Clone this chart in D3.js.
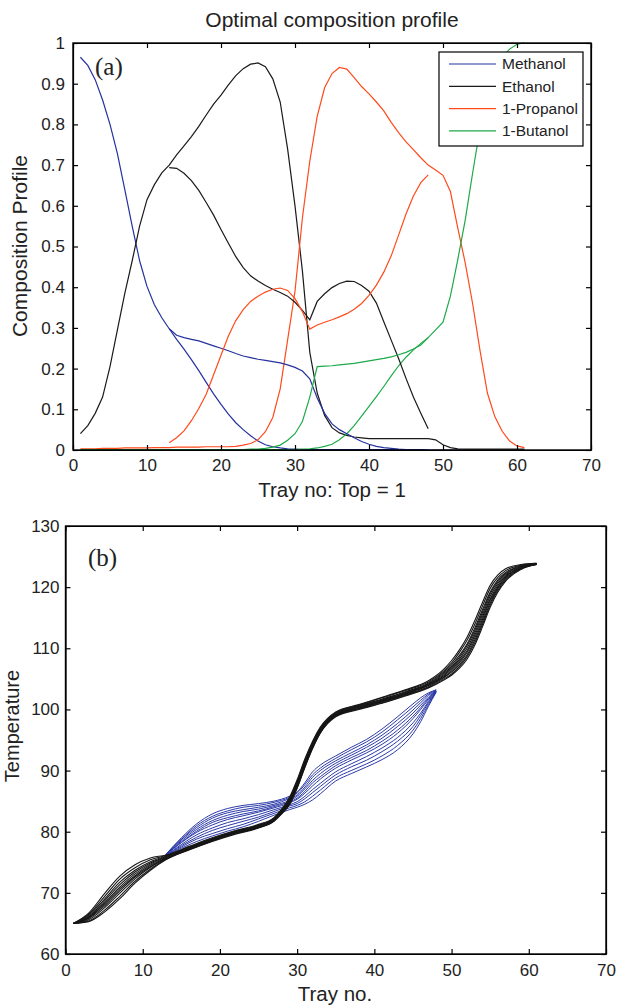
<!DOCTYPE html>
<html>
<head>
	<title>Optimal composition profile</title>
	<meta charset="utf-8">
	<style>
		body { margin: 0; background: #fff; }
		svg { display: block; font-family: "Liberation Sans", Arial, sans-serif; }
		.axis path, .axis line { fill: none; stroke: #000; stroke-width: 1.2; }
		.axis .tick text { font-size: 17px; fill: #222; }
		.frame { fill: none; stroke: #000; stroke-width: 1.4; }
		.label { font-size: 20.5px; fill: #222; }
		.tag { font-family: "Liberation Serif", "Times New Roman", serif; font-size: 25px; fill: #222; }
		.legend text { font-size: 15.5px; fill: #222; }
	</style>
</head>
<body>
	<div class="chart"></div>

	<script src="https://d3js.org/d3.v7.min.js"></script>
	<script>
		// ---- data : panel (a) composition profiles ----
		var mainTrays = [1,2,3,4,5,6,7,8,9,10,11,12,13,14,15,16,17,18,19,20,21,22,23,24,25,26,27,28,29,30,
			31,32,33,34,35,36,37,38,39,40,41,42,43,44,45,46,47,48,49,50,51,52,53,54,55,56,57,58,59,60,61];
		var sideTrays = [13,14,15,16,17,18,19,20,21,22,23,24,25,26,27,28,29,30,31,32,33,34,35,36,37,38,39,40,
			41,42,43,44,45,46,47,48];

		var mainMethanol = [0.965,0.945,0.91,0.86,0.80,0.728,0.64,0.55,0.465,0.402,
			0.357,0.325,0.298,0.272,0.248,0.222,0.195,0.166,0.138,0.112,
			0.088,0.067,0.05,0.035,0.022,0.013,0.008,0.005,0.003,0.002,
			0.001,0.001,0.001,0.001,0.001,0.001,0.001,0.001,0.001,0.001,
			0.001,0.001,0.001,0.001,0.001,0.001,0.001,0,0,0,
			0,0,0,0,0,0,0,0,0,0,0];
		var mainEthanol = [0.04,0.06,0.09,0.13,0.205,0.295,0.385,0.465,0.55,0.615,
			0.652,0.681,0.70,0.725,0.747,0.77,0.795,0.823,0.85,0.872,
			0.897,0.92,0.937,0.948,0.951,0.942,0.912,0.855,0.74,0.6,
			0.44,0.24,0.14,0.085,0.055,0.042,0.036,0.032,0.03,0.028,
			0.028,0.028,0.028,0.028,0.028,0.028,0.028,0.028,0.025,0.013,
			0.006,0.003,0.002,0.002,0.002,0.002,0.002,0.002,0.002,0.002,0.002];
		var mainPropanol = [0.003,0.003,0.003,0.004,0.004,0.004,0.005,0.005,0.005,0.005,
			0.006,0.006,0.006,0.007,0.007,0.007,0.007,0.008,0.008,0.008,
			0.008,0.009,0.012,0.016,0.025,0.045,0.08,0.15,0.27,0.39,
			0.57,0.71,0.82,0.89,0.925,0.94,0.936,0.915,0.893,0.875,
			0.855,0.833,0.805,0.78,0.757,0.738,0.718,0.70,0.688,0.675,
			0.635,0.545,0.46,0.36,0.245,0.14,0.082,0.046,0.022,0.01,0.006];
		var mainButanol = [0.001,0.001,0.001,0.001,0.001,0.001,0.001,0.001,0.001,0.001,
			0.001,0.001,0.001,0.001,0.001,0.001,0.001,0.001,0.001,0.001,
			0.001,0.001,0.001,0.001,0.001,0.001,0.001,0.001,0.001,0.001,
			0.002,0.003,0.005,0.009,0.014,0.025,0.04,0.06,0.083,0.107,
			0.131,0.156,0.182,0.207,0.228,0.246,0.262,0.276,0.295,0.314,
			0.378,0.468,0.565,0.68,0.79,0.87,0.93,0.965,0.985,0.997,1.0];

		var sideMethanol = [0.298,0.282,0.276,0.272,0.268,0.262,0.256,0.25,0.244,0.237,
			0.231,0.227,0.223,0.22,0.217,0.214,0.209,0.203,0.194,0.175,
			0.128,0.09,0.064,0.05,0.04,0.03,0.021,0.014,0.009,0.006,
			0.004,0.002,0.001,0.001,0,0];
		var sideEthanol = [0.694,0.692,0.68,0.662,0.638,0.608,0.577,0.542,0.508,0.475,
			0.448,0.428,0.415,0.404,0.395,0.387,0.378,0.363,0.343,0.32,
			0.365,0.384,0.399,0.409,0.415,0.414,0.404,0.39,0.361,0.315,
			0.27,0.225,0.176,0.13,0.09,0.052];
		var sidePropanol = [0.018,0.03,0.047,0.072,0.102,0.137,0.185,0.233,0.28,0.318,
			0.345,0.365,0.378,0.388,0.395,0.398,0.392,0.372,0.34,0.297,
			0.307,0.314,0.32,0.327,0.335,0.346,0.36,0.38,0.405,0.437,
			0.477,0.528,0.58,0.624,0.657,0.676];
		var sideButanol = [0,0,0.001,0.001,0.001,0.001,0.001,0.001,0.001,0.001,
			0.001,0.002,0.002,0.004,0.007,0.012,0.024,0.04,0.07,0.13,
			0.205,0.206,0.207,0.209,0.211,0.213,0.216,0.219,0.222,0.225,
			0.229,0.234,0.24,0.248,0.258,0.276];

		var components = ["Methanol", "Ethanol", "1-Propanol", "1-Butanol"];
		var componentColors = ["#25329e", "#1a1a1a", "#ff4a1c", "#1daa48"];

		// ---- data : panel (b) temperature profiles ----
		var mainTempTrays = [1,3,5,7,9,11,13,16,19,22,25,27,28,29,30,31,32,33,35,38,41,44,47,49,50,51,52,53,54,55,56,57,59,61];
		var mainTempRuns = [
			[65.0,65.3,66.8,69.0,71.6,73.7,75.4,77.0,78.4,79.6,80.6,81.7,82.9,84.4,87.1,90.5,93.6,96.1,98.8,100.0,101.0,102.2,103.5,104.8,105.6,106.7,108.2,110.5,113.5,116.7,119.2,121.0,122.9,123.7],
			[65.0,65.4,67.1,69.4,71.9,73.9,75.5,77.1,78.5,79.7,80.7,81.8,83.0,84.5,87.2,90.6,93.7,96.2,98.9,100.1,101.1,102.3,103.6,105.0,105.8,107.0,108.6,110.9,113.9,117.1,119.5,121.2,123.0,123.7],
			[65.0,65.6,67.5,69.9,72.3,74.2,75.6,77.1,78.5,79.7,80.7,81.8,83.1,84.6,87.4,90.8,93.8,96.3,99.0,100.2,101.2,102.4,103.7,105.2,106.1,107.3,108.9,111.3,114.3,117.4,119.8,121.4,123.1,123.7],
			[65.0,65.8,67.8,70.3,72.6,74.3,75.6,77.2,78.6,79.8,80.8,81.9,83.1,84.8,87.5,90.9,94.0,96.4,99.0,100.2,101.3,102.5,103.9,105.3,106.3,107.6,109.3,111.7,114.7,117.8,120.0,121.6,123.1,123.8],
			[65.0,65.9,68.1,70.6,72.8,74.5,75.7,77.2,78.6,79.8,80.8,81.9,83.2,84.9,87.7,91.1,94.1,96.5,99.1,100.3,101.4,102.6,104.0,105.5,106.6,107.9,109.6,112.1,115.1,118.1,120.3,121.8,123.2,123.8],
			[65.0,66.0,68.3,70.9,73.1,74.7,75.8,77.3,78.7,79.9,80.9,82.0,83.3,85.0,87.8,91.2,94.2,96.6,99.2,100.4,101.5,102.7,104.1,105.7,106.8,108.2,110.0,112.5,115.5,118.5,120.6,122.0,123.3,123.8],
			[65.0,66.1,68.6,71.3,73.4,74.9,75.9,77.4,78.8,80.0,81.0,82.1,83.4,85.1,87.9,91.3,94.3,96.7,99.3,100.5,101.6,102.8,104.2,105.9,107.0,108.5,110.4,112.9,115.9,118.9,120.9,122.2,123.4,123.8],
			[65.0,66.3,68.9,71.7,73.7,75.1,76.0,77.4,78.8,80.0,81.0,82.1,83.5,85.2,88.1,91.5,94.4,96.8,99.4,100.6,101.7,102.9,104.3,106.1,107.3,108.8,110.7,113.3,116.3,119.2,121.2,122.4,123.5,123.8],
			[65.0,66.5,69.3,72.2,74.1,75.4,76.1,77.5,78.9,80.1,81.1,82.2,83.6,85.4,88.3,91.7,94.6,97.0,99.5,100.7,101.9,103.1,104.5,106.3,107.6,109.3,111.3,113.9,116.9,119.8,121.6,122.7,123.6,123.9],
			[65.0,66.7,69.8,72.7,74.6,75.7,76.2,77.6,79.0,80.2,81.2,82.3,83.7,85.6,88.5,91.9,94.8,97.1,99.6,100.8,102.0,103.2,104.7,106.6,108.0,109.7,111.8,114.5,117.5,120.3,122.0,123.0,123.7,123.9]
		];
		var sideTempTrays = [13,15,17,19,21,23,25,27,29,30,31,32,33,35,37,39,41,43,45,46,47,48];
		var sideTempRuns = [
			[76.0,77.3,78.4,79.3,80.1,80.8,81.7,82.7,83.6,84.0,84.5,85.2,86.2,88.3,89.5,90.6,91.8,93.4,96.0,98.0,100.5,102.8],
			[76.0,77.5,78.8,79.7,80.5,81.2,82.1,83.0,83.9,84.3,84.9,85.8,86.8,88.8,90.0,91.1,92.4,94.1,96.6,98.5,100.8,102.9],
			[76.1,77.7,79.1,80.2,81.0,81.7,82.4,83.3,84.2,84.6,85.4,86.4,87.4,89.3,90.6,91.7,93.1,94.8,97.2,99.0,101.1,102.9],
			[76.1,77.9,79.5,80.6,81.5,82.1,82.8,83.6,84.4,84.9,85.8,86.9,87.9,89.8,91.1,92.3,93.7,95.4,97.8,99.4,101.3,103.0],
			[76.2,78.2,79.9,81.1,82.0,82.6,83.2,83.9,84.7,85.3,86.3,87.5,88.6,90.4,91.7,92.9,94.3,96.1,98.5,100.0,101.6,103.0],
			[76.2,78.3,80.1,81.5,82.3,82.9,83.4,84.1,84.9,85.5,86.6,88.0,89.0,90.8,92.1,93.3,94.8,96.6,98.9,100.3,101.8,103.0],
			[76.2,78.5,80.4,81.8,82.7,83.3,83.7,84.3,85.1,85.8,87.0,88.4,89.5,91.2,92.5,93.8,95.3,97.2,99.4,100.7,102.0,103.1],
			[76.2,78.7,80.7,82.2,83.1,83.6,84.0,84.5,85.4,86.0,87.3,88.9,90.0,91.6,92.9,94.2,95.8,97.7,99.9,101.1,102.3,103.1],
			[76.3,78.8,81.0,82.5,83.4,84.0,84.3,84.8,85.6,86.3,87.7,89.3,90.4,92.0,93.4,94.7,96.3,98.3,100.4,101.5,102.5,103.2],
			[76.3,79.0,81.3,82.9,83.8,84.3,84.6,85.0,85.8,86.5,88.0,89.8,90.9,92.4,93.8,95.1,96.8,98.8,100.9,101.9,102.7,103.2]
		];

		// ---- tick labels ----
		var trayTicks = [0, 10, 20, 30, 40, 50, 60, 70];
		var compTicks = [0, 0.1, 0.2, 0.3, 0.4, 0.5, 0.6, 0.7, 0.8, 0.9, 1];
		var compTickLabels = ["0", "0.1", "0.2", "0.3", "0.4", "0.5", "0.6", "0.7", "0.8", "0.9", "1"];
		var tempTicks = [60, 70, 80, 90, 100, 110, 120, 130];

		var svg = d3.select(".chart")
			.append("svg")
			.attr("width", 619)
			.attr("height", 1006);

		// draws a MATLAB-like boxed axes with inward ticks on all sides
		function drawBox(x, y, yTicks, yFormat, padBottom, padLeft) {
			var x0 = x.range()[0], x1 = x.range()[1];
			var y0 = y.range()[0], y1 = y.range()[1];

			svg.append("g").attr("class", "axis")
				.attr("transform", "translate(0," + y0 + ")")
				.call(d3.axisBottom(x).tickValues(trayTicks).tickSizeInner(-5).tickSizeOuter(0).tickPadding(padBottom));
			svg.append("g").attr("class", "axis")
				.attr("transform", "translate(0," + y1 + ")")
				.call(d3.axisTop(x).tickValues(trayTicks).tickSizeInner(-5).tickSizeOuter(0).tickFormat(""));
			svg.append("g").attr("class", "axis")
				.attr("transform", "translate(" + x0 + ",0)")
				.call(d3.axisLeft(y).tickValues(yTicks).tickSizeInner(-5).tickSizeOuter(0).tickPadding(padLeft).tickFormat(yFormat));
			svg.append("g").attr("class", "axis")
				.attr("transform", "translate(" + x1 + ",0)")
				.call(d3.axisRight(y).tickValues(yTicks).tickSizeInner(-5).tickSizeOuter(0).tickFormat(""));

			svg.append("rect").attr("class", "frame")
				.attr("x", x0).attr("y", y1)
				.attr("width", x1 - x0).attr("height", y0 - y1);
		}

		// ================= panel (a) =================
		var xA = d3.scaleLinear().domain([0, 70]).range([73, 591]);
		var yA = d3.scaleLinear().domain([0, 1]).range([450, 43]);

		var lineA = d3.line()
			.x(function(d) { return xA(d[0]); })
			.y(function(d) { return yA(d[1]); });

		var mainSeries = [mainMethanol, mainEthanol, mainPropanol, mainButanol];
		var sideSeries = [sideMethanol, sideEthanol, sidePropanol, sideButanol];

		mainSeries.forEach(function(vals, i) {
			svg.append("path")
				.datum(d3.zip(mainTrays, vals))
				.attr("fill", "none")
				.attr("stroke", componentColors[i])
				.attr("stroke-width", 1.2)
				.attr("d", lineA);
		});
		sideSeries.forEach(function(vals, i) {
			svg.append("path")
				.datum(d3.zip(sideTrays, vals))
				.attr("fill", "none")
				.attr("stroke", componentColors[i])
				.attr("stroke-width", 1.2)
				.attr("d", lineA);
		});

		drawBox(xA, yA, compTicks, function(d, i) { return compTickLabels[i]; }, 9, 8);

		svg.append("text").attr("class", "label")
			.attr("x", 332).attr("y", 27)
			.attr("text-anchor", "middle")
			.style("font-size", "21px")
			.text("Optimal composition profile");
		svg.append("text").attr("class", "label")
			.attr("x", 332).attr("y", 497)
			.attr("text-anchor", "middle")
			.text("Tray no: Top = 1");
		svg.append("text").attr("class", "label")
			.attr("transform", "translate(27,246) rotate(-90)")
			.attr("text-anchor", "middle")
			.style("font-size", "21px")
			.text("Composition Profile");
		svg.append("text").attr("class", "tag")
			.attr("x", 95).attr("y", 75)
			.text("(a)");

		// legend
		var legend = svg.append("g").attr("class", "legend");
		legend.append("rect")
			.attr("x", 439).attr("y", 52)
			.attr("width", 144).attr("height", 94)
			.attr("fill", "#fff")
			.attr("stroke", "#000")
			.attr("stroke-width", 1.2);
		var items = legend.selectAll(".item")
			.data(components)
			.enter()
			.append("g")
			.attr("class", "item")
			.attr("transform", function(d, i) { return "translate(0," + (64 + i * 22.3) + ")"; });
		items.append("line")
			.attr("x1", 449).attr("x2", 496)
			.attr("stroke", function(d, i) { return componentColors[i]; })
			.attr("stroke-width", 1.2);
		items.append("text")
			.attr("x", 502)
			.attr("dy", "0.35em")
			.text(function(d) { return d; });

		// ================= panel (b) =================
		var xB = d3.scaleLinear().domain([0, 70]).range([65.5, 606]);
		var yB = d3.scaleLinear().domain([60, 130]).range([954, 526]);

		var lineB = d3.line()
			.curve(d3.curveMonotoneX)
			.x(function(d) { return xB(d[0]); })
			.y(function(d) { return yB(d[1]); });

		sideTempRuns.forEach(function(run) {
			svg.append("path")
				.datum(d3.zip(sideTempTrays, run))
				.attr("fill", "none")
				.attr("stroke", "#2b3aa8")
				.attr("stroke-width", 1)
				.attr("d", lineB);
		});
		mainTempRuns.forEach(function(run) {
			svg.append("path")
				.datum(d3.zip(mainTempTrays, run))
				.attr("fill", "none")
				.attr("stroke", "#161616")
				.attr("stroke-width", 1.1)
				.attr("d", lineB);
		});

		drawBox(xB, yB, tempTicks, d3.format("d"), 10, 6);

		svg.append("text").attr("class", "label")
			.attr("x", 335).attr("y", 1001)
			.attr("text-anchor", "middle")
			.text("Tray no.");
		svg.append("text").attr("class", "label")
			.attr("transform", "translate(19,726) rotate(-90)")
			.attr("text-anchor", "middle")
			.style("font-size", "20px")
			.text("Temperature");
		svg.append("text").attr("class", "tag")
			.attr("x", 88).attr("y", 566)
			.text("(b)");
	</script>
</body>
</html>
